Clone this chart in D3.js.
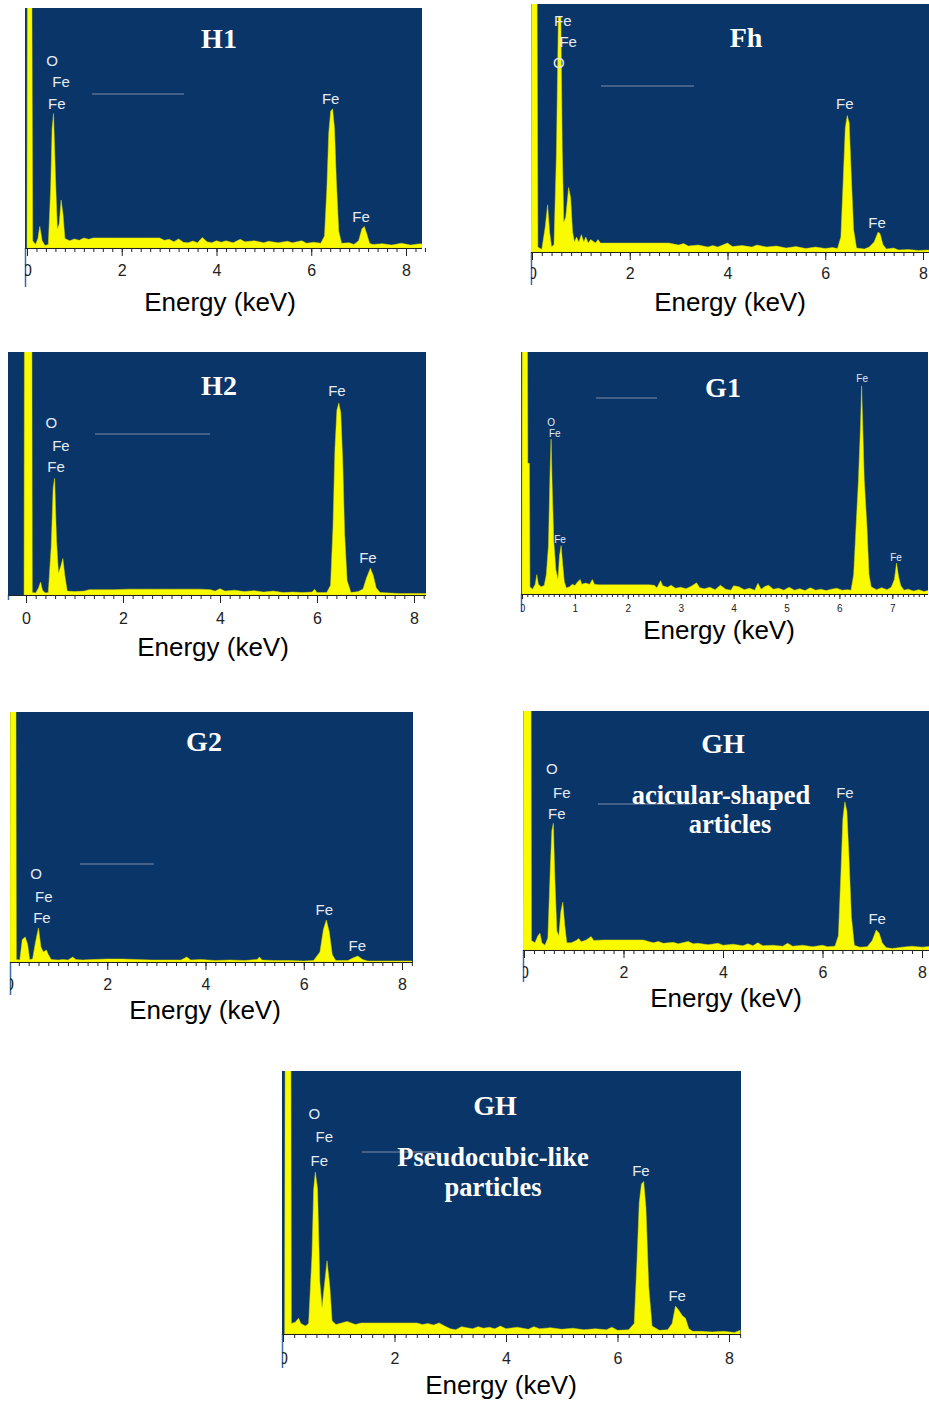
<!DOCTYPE html>
<html>
<head>
<meta charset="utf-8">
<script src="https://cdn.jsdelivr.net/npm/d3@7"></script>
<style>
  body { margin: 0; background: #fff; }
  svg { display: block; }
</style>
</head>
<body>
<div id="chart"></div>
<script>
// Page size
var svgWidth = 929;
var svgHeight = 1405;

// Tick values (keV)
var evenTicks = [0, 2, 4, 6, 8];
var unitTicks = [0, 1, 2, 3, 4, 5, 6, 7];

// Panel titles and captions
var titles = ["H1", "Fh", "H2", "G1", "G2", "GH", "GH"];
var captionGH1 = ["acicular-shaped", "articles"];
var captionGH2 = ["Pseudocubic-like", "particles"];

// Spectra: [energy keV, counts as % of frame height]
var spectrumH1 = [[0,0],[0.01,130],[0.1,130],[0.12,3],[0.18,1.5],[0.23,4],[0.27,9],[0.32,3],[0.38,1],[0.45,1.5],[0.5,25],[0.53,50],[0.56,56],[0.6,30],[0.64,8],[0.68,10],[0.72,20],[0.76,14],[0.8,4],[0.9,3],[1.0,3.8],[1.1,3.2],[1.2,4.2],[1.3,3.6],[1.4,4.2],[1.6,4.2],[1.8,4.2],[2.0,4.2],[2.2,4.2],[2.4,4.2],[2.6,4.2],[2.8,4.2],[2.9,3.2],[3.0,3.6],[3.1,2.6],[3.2,3.8],[3.3,2.4],[3.4,2.2],[3.5,2.9],[3.6,2.2],[3.7,4.4],[3.8,2.6],[3.9,2.2],[4.0,3],[4.1,2.4],[4.2,3],[4.35,2.2],[4.5,3.6],[4.6,2.6],[4.8,3],[5.0,2.2],[5.1,2.8],[5.3,2.2],[5.5,2.8],[5.6,2.2],[5.8,3],[5.9,2],[6.05,2.4],[6.2,2],[6.28,5],[6.33,25],[6.37,48],[6.41,57],[6.45,58],[6.49,50],[6.53,28],[6.58,7],[6.64,2],[6.8,2.2],[6.9,1.5],[7.0,3],[7.07,8],[7.12,9],[7.17,6],[7.23,2],[7.3,1.5],[7.5,1.8],[7.7,1.2],[7.9,2],[8.1,1.2],[8.3,1.8],[8.4,1.2]];
var spectrumFh = [[-0.02,0],[-0.01,130],[0.1,130],[0.12,2],[0.2,1],[0.27,10],[0.32,19],[0.36,8],[0.4,2],[0.45,3],[0.5,40],[0.54,95],[0.59,95],[0.62,40],[0.65,12],[0.69,14],[0.75,26],[0.79,22],[0.83,8],[0.87,4],[0.91,6],[0.96,4],[1.01,7],[1.06,4],[1.1,6],[1.15,3.6],[1.2,5],[1.3,3.6],[1.35,5],[1.4,3.6],[1.6,3.6],[1.8,3.6],[2.0,3.6],[2.2,3.6],[2.4,3.6],[2.6,3.6],[2.8,3.6],[2.9,3.2],[3.0,2.8],[3.1,3.4],[3.2,2.4],[3.4,2.8],[3.6,2],[3.7,2.6],[3.8,2],[4.0,3.6],[4.1,2.2],[4.3,2.6],[4.5,2],[4.6,2.8],[4.8,2],[5.0,2.4],[5.2,1.6],[5.4,2.2],[5.6,1.4],[5.8,2],[6.0,1.4],[6.15,1.8],[6.25,1.4],[6.32,6],[6.37,30],[6.41,50],[6.45,55],[6.49,52],[6.53,32],[6.58,9],[6.64,1.6],[6.8,1.2],[6.9,2],[7.0,4],[7.08,8],[7.12,7.5],[7.18,3],[7.25,1.2],[7.4,1.6],[7.5,0.8],[7.7,1],[7.9,0.6],[8.1,0.8],[8.2,0.6]];
var spectrumH2 = [[-0.04,0],[-0.03,130],[0.12,130],[0.13,1],[0.2,0.8],[0.26,3],[0.3,5.3],[0.34,2],[0.4,0.8],[0.46,1],[0.52,20],[0.56,44],[0.59,48],[0.63,22],[0.67,9],[0.72,12],[0.76,15],[0.8,8],[0.85,1.6],[1.0,1.4],[1.2,1.6],[1.3,2.2],[1.5,2.2],[1.8,2.2],[2.1,2.4],[2.4,2.4],[2.7,2.4],[3.0,2.4],[3.3,2.4],[3.6,2.4],[3.8,2.2],[3.9,1.6],[4.0,2.6],[4.1,1.6],[4.3,2],[4.5,1.4],[4.7,1.8],[4.9,1.2],[5.1,1.6],[5.3,1],[5.5,1.2],[5.7,1],[5.9,1.2],[5.95,2.4],[6.0,1],[6.2,1],[6.28,4],[6.33,28],[6.37,60],[6.41,76],[6.45,79],[6.49,75],[6.53,55],[6.57,25],[6.62,6],[6.7,1],[6.85,1.4],[6.95,2.5],[7.02,7],[7.1,11],[7.16,8],[7.22,3],[7.3,1],[7.5,0.8],[7.7,0.6],[8.0,0.6],[8.3,0.6]];
var spectrumG1 = [[0,0],[0.005,130],[0.1,130],[0.11,54],[0.14,54],[0.15,3],[0.2,2],[0.25,4],[0.28,8],[0.31,4],[0.36,3],[0.42,3.5],[0.46,8],[0.5,20],[0.53,50],[0.55,64],[0.57,45],[0.6,22],[0.64,10],[0.68,6],[0.71,16],[0.74,20],[0.77,12],[0.8,5],[0.84,2.5],[0.9,3],[0.95,4],[1.0,3.5],[1.05,5],[1.1,6],[1.13,4],[1.2,4.5],[1.28,4],[1.33,6],[1.37,4],[1.45,3.8],[1.6,3.8],[1.8,3.8],[2.0,3.8],[2.2,3.8],[2.4,3.8],[2.5,3.6],[2.55,2.6],[2.62,5.5],[2.66,3.4],[2.75,2.8],[2.82,3.6],[2.9,2.4],[3.0,2.8],[3.1,2.2],[3.2,3.2],[3.3,4.6],[3.36,2.6],[3.45,2.2],[3.55,2.8],[3.65,1.8],[3.75,3.6],[3.85,2],[3.95,1.6],[4.0,3.4],[4.1,3],[4.2,1.8],[4.3,2.4],[4.4,1.6],[4.46,4.4],[4.52,2],[4.6,3.2],[4.66,3.6],[4.75,2],[4.85,2.4],[4.95,1.6],[5.05,2.8],[5.15,1.6],[5.25,2.2],[5.35,1.4],[5.45,2.6],[5.55,1.6],[5.65,2],[5.75,1.4],[5.85,2],[5.95,2.4],[6.05,1.6],[6.15,1.8],[6.22,1.6],[6.27,8],[6.32,30],[6.36,47],[6.4,70],[6.42,86],[6.44,70],[6.47,47],[6.52,28],[6.56,8],[6.6,3],[6.7,1.8],[6.8,2.6],[6.9,1.8],[6.98,2.8],[7.04,6],[7.08,12.8],[7.12,7],[7.16,3.5],[7.22,1.6],[7.3,2],[7.4,1.2],[7.5,1.8],[7.6,1],[7.7,1.6]];
var spectrumG2 = [[0.02,0],[0.025,130],[0.14,130],[0.15,1],[0.22,0.8],[0.27,9],[0.33,10],[0.38,7],[0.42,1],[0.48,1.2],[0.54,8],[0.6,13.6],[0.65,6],[0.7,4],[0.76,4.8],[0.8,3],[0.86,1],[1.0,0.8],[1.1,1],[1.2,0.8],[1.3,2],[1.36,1],[1.5,0.8],[1.7,1],[2.0,1.2],[2.3,1.2],[2.6,1],[2.9,0.8],[3.2,0.8],[3.5,0.8],[3.62,2],[3.7,0.8],[3.9,1],[4.2,0.6],[4.5,0.8],[4.8,0.6],[5.05,1],[5.1,2],[5.15,0.8],[5.4,0.6],[5.7,0.6],[6.0,0.4],[6.2,0.6],[6.33,4],[6.4,13],[6.46,16.8],[6.52,12],[6.58,3],[6.65,0.6],[6.9,0.6],[7.0,1.6],[7.1,2.4],[7.2,1],[7.3,0.4],[7.6,0.4],[8.0,0.4],[8.2,0.4]];
var spectrumGH1 = [[-0.02,0],[-0.01,130],[0.14,130],[0.15,4],[0.22,3],[0.28,6],[0.32,7],[0.36,3],[0.42,2],[0.48,5],[0.53,35],[0.56,50],[0.59,53],[0.62,30],[0.66,8],[0.7,6],[0.74,16],[0.78,20],[0.82,10],[0.86,3],[0.95,3],[1.05,4],[1.1,4.8],[1.15,3.4],[1.25,4.2],[1.35,5.6],[1.4,4],[1.6,4.2],[1.8,4.2],[2.0,4.2],[2.2,4.2],[2.4,4.2],[2.5,3.6],[2.6,3],[2.7,3.6],[2.8,2.8],[3.0,3.2],[3.1,2.6],[3.3,3.6],[3.4,2.6],[3.5,2.8],[3.7,2.2],[3.9,2.8],[4.0,2],[4.2,2.4],[4.4,1.8],[4.5,2.6],[4.6,1.8],[4.7,3],[4.8,1.8],[5.0,2],[5.2,1.6],[5.3,2.8],[5.4,1.6],[5.6,2],[5.8,1.4],[6.0,2],[6.1,1.4],[6.25,1.6],[6.32,6],[6.37,32],[6.41,55],[6.45,62],[6.49,58],[6.53,40],[6.58,14],[6.64,2],[6.75,1.2],[6.9,1.4],[7.0,4],[7.08,8.4],[7.14,7],[7.2,3],[7.28,1],[7.4,0.6],[7.6,1.2],[7.8,1.6],[8.0,1.2],[8.2,1.6]];
var spectrumGH2 = [[0.03,0],[0.04,130],[0.14,130],[0.15,4],[0.22,4.5],[0.28,6],[0.32,4],[0.4,3],[0.46,4],[0.52,30],[0.55,55],[0.58,61.6],[0.62,55],[0.66,20],[0.7,10],[0.74,18],[0.79,27.8],[0.84,18],[0.88,5],[0.95,3.6],[1.05,4.2],[1.15,4.8],[1.2,4.4],[1.3,3.6],[1.4,4.2],[1.6,4.2],[1.8,4.2],[2.0,4.2],[2.2,4.2],[2.4,4.2],[2.5,3.6],[2.6,4],[2.7,3.4],[2.8,4.2],[2.9,3],[3.0,2],[3.1,1.6],[3.2,2.8],[3.3,2.4],[3.4,2],[3.5,2.8],[3.6,2.2],[3.7,2.6],[3.8,2],[3.9,3],[4.0,2],[4.2,2.6],[4.4,1.8],[4.5,2.8],[4.6,2],[4.8,2.4],[5.0,1.8],[5.2,2.2],[5.4,1.6],[5.6,2],[5.8,1.6],[5.9,2.6],[6.0,1.4],[6.2,1.6],[6.3,4],[6.35,28],[6.39,50],[6.43,57],[6.47,58],[6.51,48],[6.56,18],[6.62,3],[6.75,1.4],[6.9,1.6],[6.98,4],[7.04,10.6],[7.1,9],[7.16,7],[7.22,6],[7.28,2],[7.35,1],[7.5,1],[7.7,0.8],[7.9,1],[8.1,0.6],[8.2,1.4]];

// Peak labels: [element, energy keV, height %]
var labelsH1 = [["O",0.53,78.3],["Fe",0.72,69.2],["Fe",0.63,60.4],["Fe",6.41,62.5],["Fe",7.05,13.3]];
var labelsFh = [["Fe",0.63,93.5],["Fe",0.74,84.7],["O",0.55,76.6],["Fe",6.4,59.7],["Fe",7.06,11.7]];
var labelsH2 = [["O",0.52,70.8],["Fe",0.72,61.7],["Fe",0.62,52.7],["Fe",6.41,84],["Fe",7.05,15.6]];
var labelsG1 = [["O",0.55,71],["Fe",0.62,66.5],["Fe",0.72,22.7],["Fe",6.43,89],["Fe",7.07,15]];
var labelsG2 = [["O",0.55,35.6],["Fe",0.71,26.4],["Fe",0.67,18],["Fe",6.42,21.2],["Fe",7.09,6.8]];
var labelsGH1 = [["O",0.56,76],["Fe",0.76,66],["Fe",0.66,57.3],["Fe",6.45,66],["Fe",7.1,13]];
var labelsGH2 = [["O",0.56,84],["Fe",0.74,75],["Fe",0.65,65.8],["Fe",6.42,62],["Fe",7.07,14.8]];

// Panel layout (pixels)
var panels = [
  {id: "h1", title: titles[0], data: spectrumH1, labels: labelsH1, left: 25, right: 422, top: 8, axis: 248, x0: 27, x8: 406,
   titleX: 219, titleY: 38, energyX: 220, energyY: 302, grey: [92, 184, 94], lineBottom: 287, tickY: 22},
  {id: "fh", title: titles[1], data: spectrumFh, labels: labelsFh, left: 531, right: 929, top: 4, axis: 252, x0: 532, x8: 923,
   titleX: 746, titleY: 37, energyX: 730, energyY: 302, grey: [601, 694, 86], lineBottom: 285, tickY: 21},
  {id: "h2", title: titles[2], data: spectrumH2, labels: labelsH2, left: 8, right: 426, top: 352, axis: 595, x0: 26, x8: 414,
   titleX: 219, titleY: 385, energyX: 213, energyY: 647, grey: [95, 210, 434], lineBottom: 600, tickY: 23},
  {id: "g1", title: titles[3], data: spectrumG1, labels: labelsG1, left: 521, right: 928, top: 352, axis: 594, x0: 522, x8: 945.2,
   titleX: 723, titleY: 387, energyX: 719, energyY: 630, grey: [596, 657, 398], lineBottom: 612, tickY: 14, small: true},
  {id: "g2", title: titles[4], data: spectrumG2, labels: labelsG2, left: 10, right: 413, top: 712, axis: 962, x0: 9, x8: 402,
   titleX: 204, titleY: 741, energyX: 205, energyY: 1010, grey: [80, 154, 864], lineBottom: 995, tickY: 22},
  {id: "gh1", title: titles[5], data: spectrumGH1, labels: labelsGH1, left: 523, right: 929, top: 711, axis: 950, x0: 524, x8: 922,
   titleX: 723, titleY: 743, energyX: 726, energyY: 998, grey: [598, 692, 804], lineBottom: 982, tickY: 22,
   caption: captionGH1, captionPos: [[721, 795], [730, 824]]},
  {id: "gh2", title: titles[6], data: spectrumGH2, labels: labelsGH2, left: 282, right: 741, top: 1071, axis: 1334, x0: 283, x8: 729,
   titleX: 495, titleY: 1105, energyX: 501, energyY: 1385, grey: [362, 438, 1152], lineBottom: 1368, tickY: 24,
   caption: captionGH2, captionPos: [[493, 1157], [493, 1187]]}
];

var bgBlue = "#0a3568";
var yellow = "#fbfb00";

var svg = d3.select("#chart")
  .append("svg")
  .attr("width", svgWidth)
  .attr("height", svgHeight);

var defs = svg.append("defs");

panels.forEach(function(p) {
  var x = d3.scaleLinear().domain([0, 8]).range([p.x0, p.x8]);
  var y = d3.scaleLinear().domain([0, 100]).range([p.axis, p.top]);
  var g = svg.append("g").attr("id", "panel-" + p.id);

  // clip for the spectrum frame
  defs.append("clipPath").attr("id", "clip-" + p.id)
    .append("rect")
    .attr("x", p.left).attr("y", p.top)
    .attr("width", p.right - p.left).attr("height", p.axis - p.top);
  // clip for the ticks below
  defs.append("clipPath").attr("id", "clipaxis-" + p.id)
    .append("rect")
    .attr("x", p.left).attr("y", p.axis - 1)
    .attr("width", p.right - p.left + 8).attr("height", 40);

  // frame
  g.append("rect")
    .attr("x", p.left).attr("y", p.top)
    .attr("width", p.right - p.left).attr("height", p.axis - p.top)
    .attr("fill", bgBlue);

  // faint grey line left in the frame
  g.append("line")
    .attr("x1", p.grey[0]).attr("x2", p.grey[1])
    .attr("y1", p.grey[2]).attr("y2", p.grey[2])
    .attr("stroke", "#7d8ea9").attr("stroke-width", 1);

  // spectrum
  var area = d3.area()
    .x(function(d) { return x(d[0]); })
    .y0(y(0))
    .y1(function(d) { return y(d[1]); });
  g.append("path")
    .datum(p.data)
    .attr("clip-path", "url(#clip-" + p.id + ")")
    .attr("d", area)
    .attr("fill", yellow)
    .attr("stroke", "#d8d800")
    .attr("stroke-width", 0.5);

  // peak labels
  g.selectAll("text.peak")
    .data(p.labels)
    .enter().append("text")
    .attr("class", "peak")
    .attr("x", function(d) { return x(d[1]); })
    .attr("y", function(d) { return y(d[2]); })
    .attr("text-anchor", "middle")
    .attr("dominant-baseline", "central")
    .attr("fill", "#e4eaf2")
    .style("font-family", "'Liberation Sans', Arial, sans-serif")
    .style("font-size", p.small ? "10px" : "15px")
    .text(function(d) { return d[0]; });

  // title
  g.append("text")
    .attr("x", p.titleX).attr("y", p.titleY)
    .attr("text-anchor", "middle")
    .attr("dominant-baseline", "central")
    .attr("fill", "#ffffff")
    .style("font-family", "'Liberation Serif', 'Times New Roman', serif")
    .style("font-weight", "bold")
    .style("font-size", "28px")
    .text(p.title);

  if (p.caption) {
    p.caption.forEach(function(line, i) {
      g.append("text")
        .attr("x", p.captionPos[i][0]).attr("y", p.captionPos[i][1])
        .attr("text-anchor", "middle")
        .attr("dominant-baseline", "central")
        .attr("fill", "#ffffff")
        .style("font-family", "'Liberation Serif', 'Times New Roman', serif")
        .style("font-weight", "bold")
        .style("font-size", "26.5px")
        .text(line);
    });
  }

  // left rule under the frame
  g.append("line")
    .attr("x1", p.left + 0.5).attr("x2", p.left + 0.5)
    .attr("y1", p.axis).attr("y2", p.lineBottom)
    .attr("stroke", "#3c6aa4").attr("stroke-width", 1.5);

  // axis line
  g.append("line")
    .attr("x1", p.left).attr("x2", p.right)
    .attr("y1", p.axis + 0.5).attr("y2", p.axis + 0.5)
    .attr("stroke", "#222").attr("stroke-width", 1.2);

  // ticks
  var kmax = x.invert(p.right);
  var step = p.small ? 0.1 : 0.2;
  var minor = d3.range(0, Math.round(kmax / step) + 1).map(function(i) { return +(i * step).toFixed(2); });
  var major = p.small ? unitTicks : evenTicks;
  var fontTick = p.small ? 10 : 16;

  var axisG = g.append("g").attr("clip-path", "url(#clipaxis-" + p.id + ")");
  var minorAxis = d3.axisBottom(x).tickValues(minor).tickFormat("")
    .tickSize(p.small ? 3 : 4).tickSizeOuter(0);
  var majorSize = p.small ? 5 : 8;
  var majorAxis = d3.axisBottom(x).tickValues(major).tickFormat(d3.format("d"))
    .tickSize(majorSize).tickSizeOuter(0)
    .tickPadding(p.tickY - majorSize - fontTick * 0.36);

  axisG.append("g").attr("transform", "translate(0," + p.axis + ")").call(minorAxis);
  var mg = axisG.append("g").attr("transform", "translate(0," + p.axis + ")").call(majorAxis);
  axisG.selectAll(".domain").remove();
  axisG.selectAll(".tick line").attr("stroke", "#222");
  mg.selectAll(".tick text")
    .attr("fill", "#222")
    .style("font-family", "'Liberation Sans', Arial, sans-serif")
    .style("font-size", fontTick + "px");

  // x axis title
  g.append("text")
    .attr("x", p.energyX).attr("y", p.energyY)
    .attr("text-anchor", "middle")
    .attr("dominant-baseline", "central")
    .attr("fill", "#000")
    .style("font-family", "'Liberation Sans', Arial, sans-serif")
    .style("font-size", "26px")
    .text("Energy (keV)");
});
</script>
</body>
</html>
